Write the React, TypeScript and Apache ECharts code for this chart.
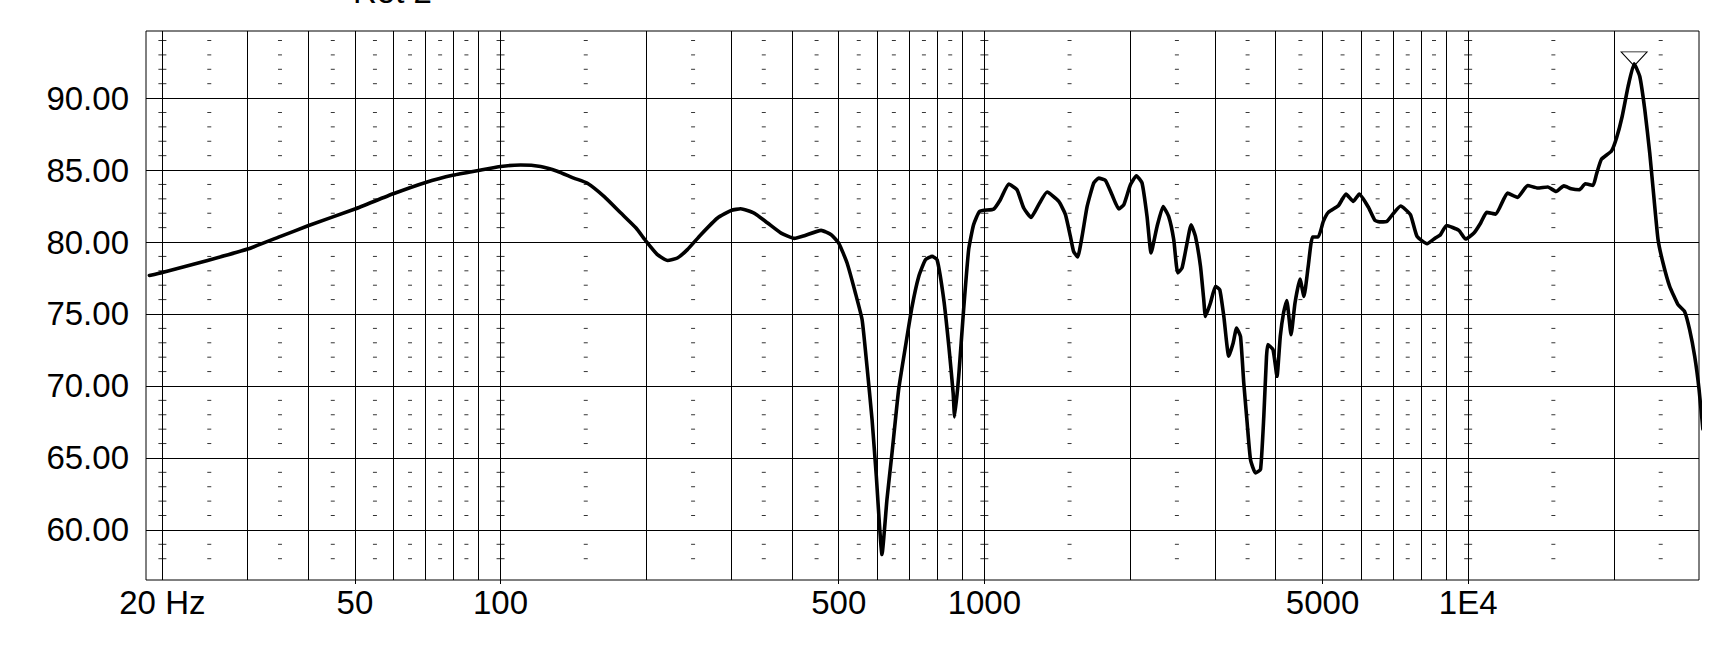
import React, { useEffect, useRef } from 'react';
import * as echarts from 'echarts';

// Frequency response curve (Hz, dB)
const freqHz = [
  18.8, 20, 24.8, 30, 35.1, 40, 50, 60, 70, 80, 90, 100, 110, 121, 131, 141.7, 150.9, 163.6, 177.3, 190.6,
  200, 211, 221.4, 232, 243.3, 259.4, 280.9, 300, 313.5, 334.2, 356.5, 380.1, 405, 424.7, 459.8, 482.4,
  500, 520.3, 541.3, 558.9, 572, 586, 598, 614.4, 629, 644.4, 665, 687, 709, 731.8, 755.5, 780, 798.6,
  824.4, 844.5, 862, 868, 885, 906, 928, 950, 978, 1045, 1079, 1123, 1168, 1206, 1249, 1295, 1348, 1425,
  1471, 1506, 1529, 1559, 1592, 1631, 1683, 1723, 1779, 1836, 1896, 1942, 2004, 2062, 2118, 2169, 2211,
  2275, 2341, 2404, 2463, 2510, 2562, 2624, 2675, 2731, 2797, 2841, 2864, 2933, 3004, 3066, 3126, 3200,
  3268, 3321, 3384, 3437, 3493, 3549, 3634, 3722, 3781, 3830, 3855, 3951, 4026, 4089, 4153, 4218, 4305,
  4386, 4491, 4577, 4671, 4767, 4899, 5019, 5140, 5390, 5591, 5789, 5956, 6217, 6416, 6590, 6798, 7016,
  7250, 7596, 7840, 8222, 8554, 8764, 9019, 9568, 9880, 10279, 10614, 10920, 11402, 12060, 12650, 13270,
  13920, 14610, 15200, 15770, 16330, 16990, 17460, 18120, 18410, 18850, 19780, 20260, 20810, 21410, 22030,
  22630, 23180, 23730, 24230, 24690, 25280, 26090, 27150, 28010, 28690, 29390, 30000, 30560
];
const levelDb = [
  77.68, 77.89, 78.72, 79.51, 80.39, 81.13, 82.29, 83.35, 84.14, 84.65, 84.97, 85.25, 85.35, 85.25, 84.92, 84.44, 84.1, 83.17, 82.01, 80.97,
  80.04, 79.12, 78.72, 78.89, 79.47, 80.51, 81.67, 82.2, 82.31, 82.01, 81.32, 80.62, 80.25, 80.44, 80.81, 80.51,
  79.93, 78.54, 76.46, 74.6, 71.36, 67.66, 63.72, 58.29, 62.1, 65.35, 69.74, 72.75, 75.53, 77.61, 78.77, 79.0, 78.77,
  75.99, 72.75, 69.51, 67.85, 70.67, 75.3, 79.47, 81.2, 82.13, 82.29, 82.94, 84.03, 83.63, 82.36, 81.71, 82.59, 83.47, 82.82,
  81.9, 80.39, 79.35, 78.96, 80.39, 82.47, 84.1, 84.44, 84.28, 83.28, 82.29, 82.59, 83.98, 84.6, 84.1, 81.78, 79.24,
  81.08, 82.47, 81.78, 80.16, 77.85, 78.19, 79.93, 81.2, 80.39, 78.31, 75.99, 74.83, 75.76, 76.92, 76.69, 74.83, 72.06,
  72.99, 74.03, 73.44, 70.21, 67.43, 64.88, 63.96, 64.19, 67.89, 72.06, 72.87, 72.52, 70.67, 73.44, 75.07, 75.94, 73.56,
  75.76, 77.43, 76.22, 78.31, 80.35, 80.35, 81.43, 82.06, 82.52, 83.33, 82.82, 83.33, 82.43, 81.5, 81.4, 81.45, 82.01,
  82.5, 81.9, 80.39, 79.88, 80.28, 80.51, 81.15, 80.81, 80.21, 80.62, 81.32, 82.06, 81.94, 83.4, 83.1, 83.93,
  83.75, 83.82, 83.51, 83.9, 83.7, 83.63, 84.05, 83.93, 84.69, 85.74, 86.32, 87.22, 88.72, 90.81, 92.38,
  91.5, 89.19, 86.18, 82.94, 80.16, 78.54, 76.92, 75.65, 75.18, 73.91, 72.06, 69.8, 67.0
];

// Axis / grid decoration values
const xTickValues = [20, 50, 100, 500, 1000, 5000, 10000];
const xTickLabels = ['20 Hz', '50', '100', '500', '1000', '5000', '1E4'];
const xTickMarks = [50, 100, 500, 1000, 5000, 10000];
const yTickValues = [60, 65, 70, 75, 80, 85, 90];
const gridFreqs = [20, 30, 40, 50, 60, 70, 80, 90, 100, 200, 300, 400, 500, 600, 700, 800, 900,
  1000, 2000, 3000, 4000, 5000, 6000, 7000, 8000, 9000, 10000, 20000];
const gridDb = [60, 65, 70, 75, 80, 85, 90];
const minorFreqs = [25, 35, 45, 55, 65, 75, 85, 150, 250, 350, 450, 550, 650, 750, 850,
  1500, 2500, 3500, 4500, 5500, 6500, 7500, 8500, 15000, 25000];
const crossFreqs = [20, 100, 1000, 10000];
const minorDb = [58, 59, 61, 62, 63, 64, 66, 67, 68, 69, 71, 72, 73, 74, 76, 77, 78, 79,
  81, 82, 83, 84, 86, 87, 88, 89, 91, 92, 93, 94];
const titleText = 'Ret 2';

const FONT = '"Liberation Sans", Arial, sans-serif';

export default function App() {
  const ref = useRef<HTMLDivElement>(null);
  useEffect(() => {
    const chart = echarts.init(ref.current!, null, { renderer: 'svg' });
    const curve = freqHz.map((f, i) => [f, levelDb[i]]);
    let peakIdx = 0;
    levelDb.forEach((v, i) => { if (v > levelDb[peakIdx]) peakIdx = i; });
    const dashes: any[] = [];
    minorFreqs.forEach((f) => minorDb.forEach((d) => dashes.push({ value: [f, d], symbolSize: [4, 1] })));
    crossFreqs.forEach((f) => minorDb.forEach((d) => dashes.push({ value: [f, d], symbolSize: [8, 1] })));

    chart.setOption({
      animation: false,
      backgroundColor: '#fff',
      textStyle: { fontFamily: FONT },
      grid: {
        left: 146, top: 31, right: 22, bottom: 75,
        show: true, borderColor: '#000', borderWidth: 1, backgroundColor: 'transparent',
      },
      xAxis: {
        type: 'log', logBase: 10, min: 18.5, max: 30000,
        axisLine: { show: false },
        splitLine: { show: false },
        minorTick: { show: false },
        axisTick: { show: true, customValues: xTickMarks, length: 4, lineStyle: { color: '#000', width: 1 } },
        axisLabel: {
          customValues: xTickValues,
          formatter: (v: number) => {
            const i = xTickValues.findIndex((t) => Math.abs(t - v) / t < 1e-6);
            return i >= 0 ? xTickLabels[i] : '';
          },
          color: '#000', fontSize: 33, fontFamily: FONT, margin: 6,
        },
      },
      yAxis: {
        type: 'value', min: 56.52, max: 94.66,
        axisLine: { show: false },
        splitLine: { show: false },
        axisTick: { show: false },
        axisLabel: {
          customValues: yTickValues,
          formatter: (v: number) => v.toFixed(2),
          color: '#000', fontSize: 33, fontFamily: FONT, margin: 17,
        },
      },
      graphic: [
        {
          type: 'text', x: 353, y: -9,
          style: { text: titleText, font: `33px ${FONT}`, fill: '#000', verticalAlign: 'middle' },
        },
      ],
      series: [
        {
          type: 'scatter',
          z: 1,
          silent: true,
          symbol: 'rect',
          itemStyle: { color: '#000' },
          data: dashes,
          markLine: {
            silent: true,
            symbol: 'none',
            label: { show: false },
            lineStyle: { color: '#000', width: 1, type: 'solid' },
            data: [
              ...gridFreqs.map((f) => ({ xAxis: f })),
              ...gridDb.map((d) => ({ yAxis: d })),
            ],
          },
        },
        {
          type: 'line',
          z: 5,
          data: curve,
          showSymbol: false,
          clip: false,
          smooth: 0.15,
          lineStyle: { color: '#000', width: 3.6, join: 'round', cap: 'round' },
          markPoint: {
            symbol: 'triangle',
            symbolRotate: 180,
            symbolSize: [26, 14],
            symbolOffset: [0, -5],
            itemStyle: { color: 'rgba(0,0,0,0)', borderColor: '#000', borderWidth: 1 },
            label: { show: false },
            data: [{ coord: curve[peakIdx] }],
          },
        },
      ],
    });
    return () => chart.dispose();
  }, []);
  return (
    <div
      ref={ref}
      style={{ position: 'fixed', left: 0, top: 0, width: 1721, height: 655, background: '#fff' }}
    />
  );
}
